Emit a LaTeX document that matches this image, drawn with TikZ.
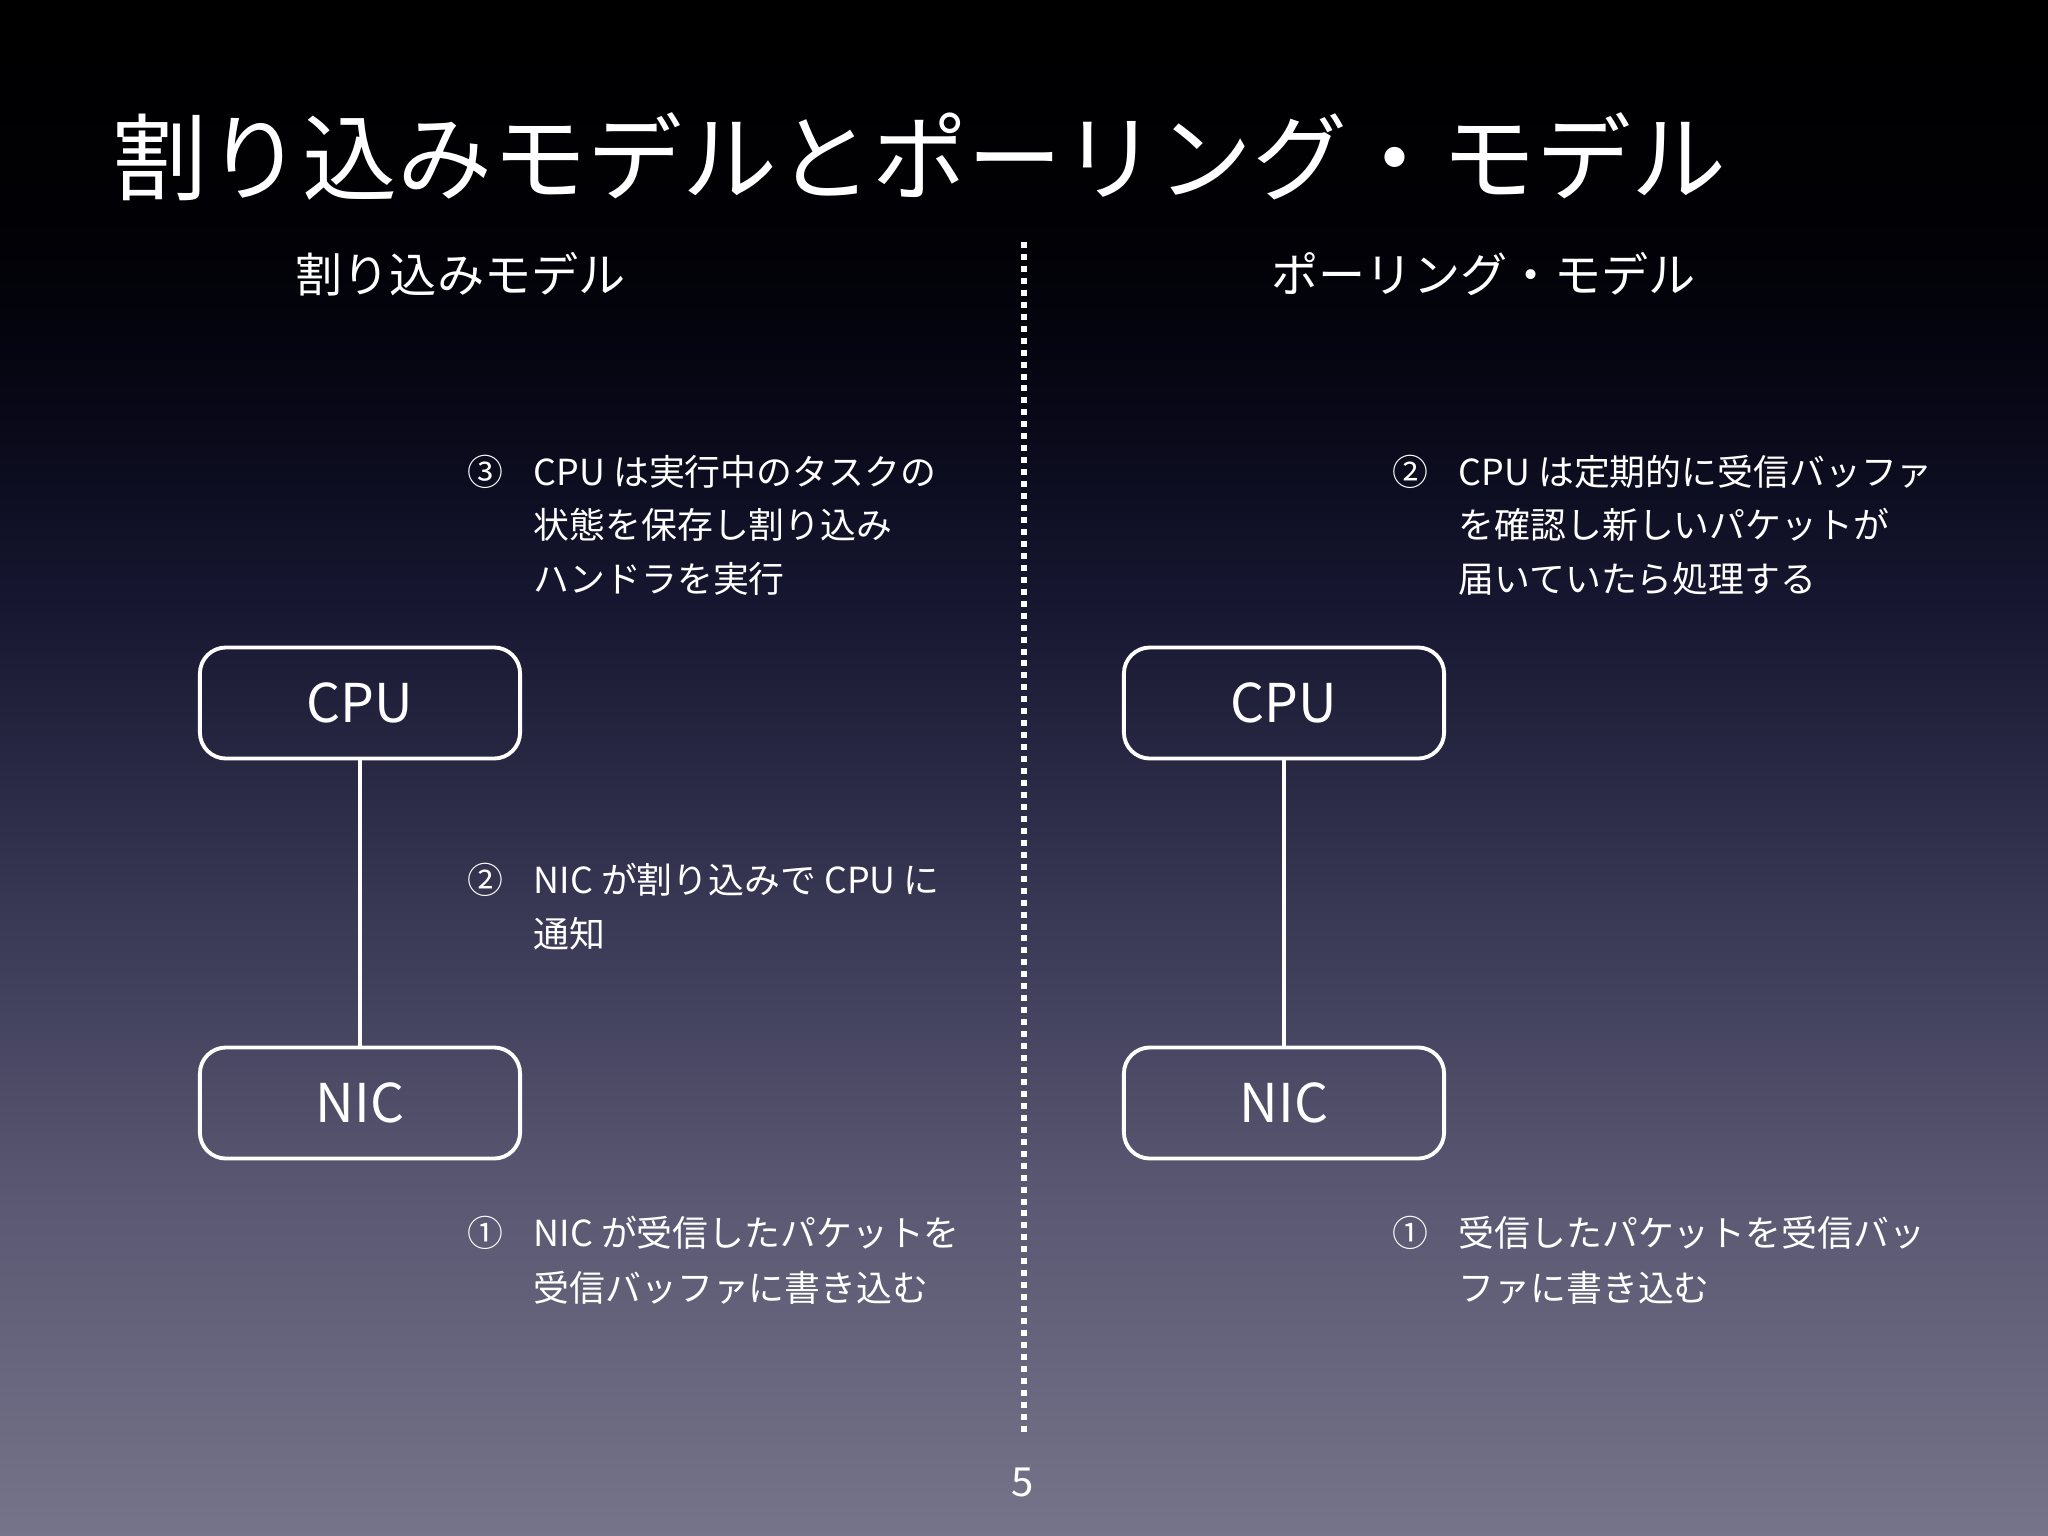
\documentclass[tikz,border=0pt]{standalone}
\usepackage{fontspec}
\setmainfont{Noto Sans CJK JP}
\definecolor{bgA}{RGB}{118,116,138}
\definecolor{bgB}{RGB}{90,88,114}
\definecolor{bgC}{RGB}{56,55,84}
\definecolor{bgD}{RGB}{22,22,48}
\definecolor{bgE}{RGB}{7,7,22}
\definecolor{bgF}{RGB}{1,1,6}
\definecolor{bgG}{RGB}{0,0,0}
\pgfdeclareverticalshading{slidebg}{100bp}{%
  color(0bp)=(bgA); color(25bp)=(bgA); color(36bp)=(bgB); color(45.5bp)=(bgC); color(55.5bp)=(bgD);
  color(62bp)=(bgE); color(67bp)=(bgF); color(75bp)=(bgG); color(100bp)=(bgG)}
\tikzset{
  titletext/.style={anchor=base west, inner sep=0, text=white, font=\fontsize{27}{30}\selectfont},
  subtext/.style={anchor=base west, inner sep=0, text=white, font=\fontsize{13.4}{16}\selectfont},
  note/.style={anchor=base west, inner sep=0, text=white, font=\fontsize{10.2}{12}\selectfont},
  box/.style={draw=white, line width=1.1pt, rounded corners=7.4pt, minimum width=3.2cm, minimum height=1.11cm, text=white, font=\fontsize{15.2}{18}\selectfont},
  link/.style={draw=white, line width=1.1pt},
  divider/.style={draw=white, line width=1.7pt, dash pattern=on 1.7pt off 1.7pt},
}
\begin{document}
\begin{tikzpicture}[x=0.01cm,y=-0.01cm]
\useasboundingbox (0,0) rectangle (2048,1536);
\shade[shading=slidebg] (0,0) rectangle (2048,1536);

\node[titletext] (title) at (112,193) {割り込みモデルとポーリング・モデル};
\node[subtext] (subL) at (295,292) {割り込みモデル};
\node[subtext] (subR) at (1271,292) {ポーリング・モデル};

\coordinate (divtop) at (1024,242);
\coordinate (divbot) at (1024,1434);
\draw[divider] (divtop) -- (divbot);

% left side
\node[box] (cpuL) at (360,703) {CPU};
\node[box] (nicL) at (360,1103) {NIC};
\draw[link] (cpuL) -- (nicL);

\node[note] (n3L) at (467,485) {③};
\node[note] (t3La) at (533,485) {CPU は実行中のタスクの};
\node[note] (t3Lb) at (533,538) {状態を保存し割り込み};
\node[note] (t3Lc) at (533,592) {ハンドラを実行};

\node[note] (n2L) at (467,893) {②};
\node[note] (t2La) at (533,893) {NIC が割り込みで CPU に};
\node[note] (t2Lb) at (533,947) {通知};

\node[note] (n1L) at (467,1246) {①};
\node[note] (t1La) at (533,1246) {NIC が受信したパケットを};
\node[note] (t1Lb) at (533,1301) {受信バッファに書き込む};

% right side
\node[box] (cpuR) at (1284,703) {CPU};
\node[box] (nicR) at (1284,1103) {NIC};
\draw[link] (cpuR) -- (nicR);

\node[note] (n2R) at (1392,485) {②};
\node[note] (t2Ra) at (1458,485) {CPU は定期的に受信バッファ};
\node[note] (t2Rb) at (1458,538) {を確認し新しいパケットが};
\node[note] (t2Rc) at (1458,592) {届いていたら処理する};

\node[note] (n1R) at (1392,1246) {①};
\node[note] (t1Ra) at (1458,1246) {受信したパケットを受信バッ};
\node[note] (t1Rb) at (1458,1301) {ファに書き込む};

\node[anchor=base, inner sep=0, text=white, font=\fontsize{11.4}{13}\selectfont] (page) at (1023,1496) {5};
\end{tikzpicture}
\end{document}
